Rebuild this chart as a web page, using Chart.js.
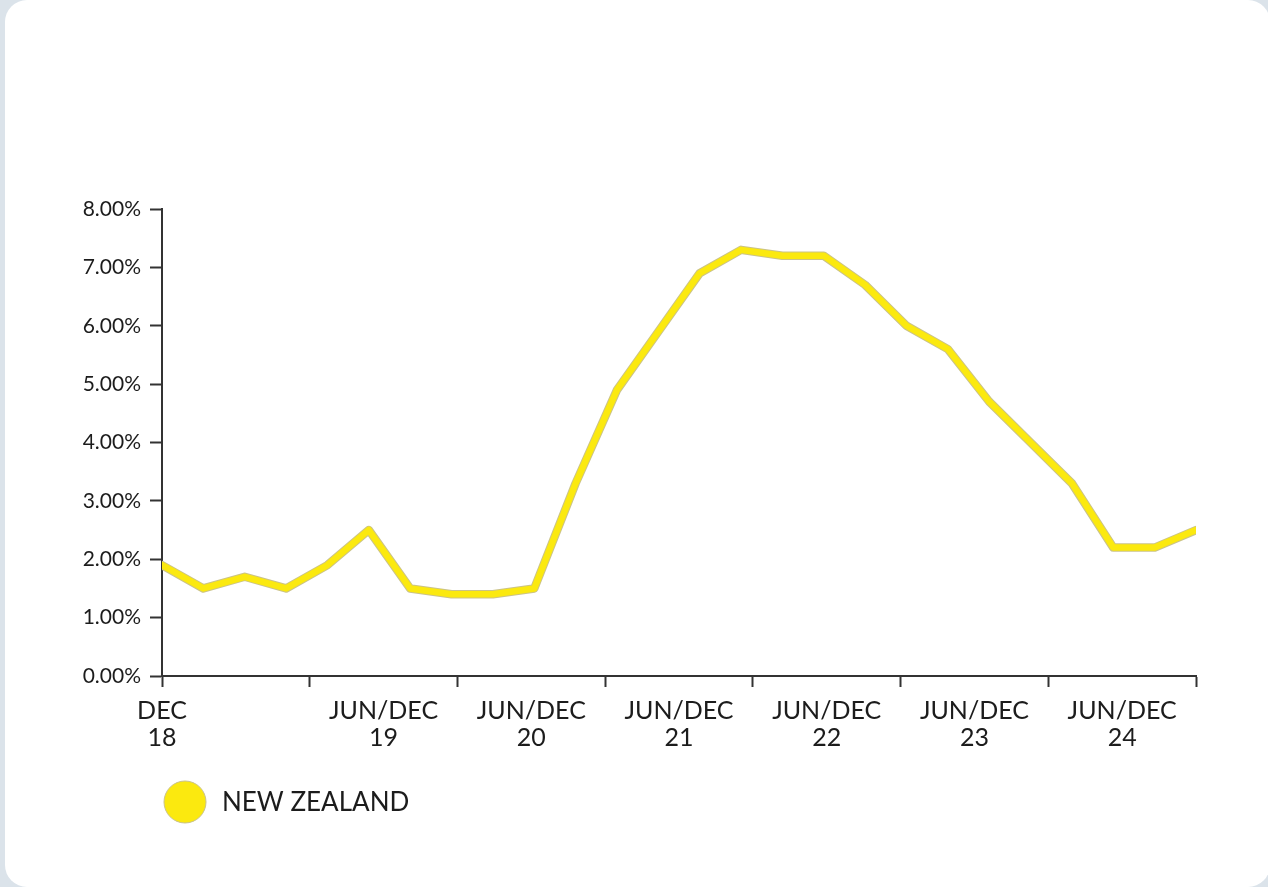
<!DOCTYPE html>
<html>
<head>
<meta charset="utf-8">
<title>New Zealand CPI</title>
<script src="https://cdn.jsdelivr.net/npm/chart.js@4.4.1/dist/chart.umd.min.js"></script>
<style>
  html, body { margin: 0; padding: 0; }
  body { width: 1268px; height: 887px; background: #dbe3ea; position: relative; overflow: hidden; }
  .card { position: absolute; left: 5px; top: 0; width: 1265px; height: 887px; background: #fff; border-radius: 22px; }
  #cpiChart { position: absolute; left: 0; top: 0; }
</style>
</head>
<body>
<div class="card"></div>
<canvas id="cpiChart" width="1268" height="887"></canvas>
<script>
// quarterly annual CPI, Dec 18 .. Mar 25
const quarters = ['Dec 18', 'Mar 19', 'Jun 19', 'Sep 19', 'Dec 19', 'Mar 20', 'Jun 20', 'Sep 20', 'Dec 20',
  'Mar 21', 'Jun 21', 'Sep 21', 'Dec 21', 'Mar 22', 'Jun 22', 'Sep 22', 'Dec 22', 'Mar 23', 'Jun 23',
  'Sep 23', 'Dec 23', 'Mar 24', 'Jun 24', 'Sep 24', 'Dec 24', 'Mar 25'];
const nzRates = [1.9, 1.5, 1.7, 1.5, 1.9, 2.5, 1.5, 1.4, 1.4, 1.5, 3.3, 4.9, 5.9, 6.9, 7.3, 7.2, 7.2,
  6.7, 6.0, 5.6, 4.7, 4.0, 3.3, 2.2, 2.2, 2.5];

// x axis is split into 7 equal bands, labels sit in the middle of each band (first one on the edge)
const xTickLabels = [['DEC', '18'], ['JUN/DEC', '19'], ['JUN/DEC', '20'], ['JUN/DEC', '21'],
  ['JUN/DEC', '22'], ['JUN/DEC', '23'], ['JUN/DEC', '24']];
const yTicks = [0, 1, 2, 3, 4, 5, 6, 7, 8];

const seriesName = 'NEW ZEALAND';
const yellow = '#fbe90f';
const ink = '#1c1c1c';

const points = nzRates.map((v, i) => ({ x: i, y: v }));
const xMax = quarters.length - 1;
const band = xMax / 7;

const xTicks = [];
for (let i = 0; i <= 7; i++) xTicks.push({ value: i * band, mark: true, text: i === 0 ? xTickLabels[0] : '' });
for (let i = 1; i < xTickLabels.length; i++) xTicks.push({ value: (i + 0.5) * band, mark: false, text: xTickLabels[i] });
xTicks.sort((a, b) => a.value - b.value);

const legendDot = {
  id: 'legendDot',
  afterDraw(chart) {
    const c = chart.ctx;
    const ds = chart.data.datasets[0];
    const x = chart.chartArea.left + 23;
    const y = 802;
    c.save();
    c.beginPath();
    c.arc(x, y, 21, 0, Math.PI * 2);
    c.fillStyle = ds.borderColor;
    c.fill();
    c.lineWidth = 1;
    c.strokeStyle = '#c9c28a';
    c.stroke();
    c.fillStyle = ink;
    c.font = '26px Lato';
    c.textBaseline = 'middle';
    c.fillText(ds.label, x + 37, y + 1);
    c.restore();
  }
};

new Chart(document.getElementById('cpiChart'), {
  type: 'line',
  data: {
    datasets: [{
      label: seriesName,
      data: points,
      borderColor: yellow,
      borderWidth: 6.5,
      borderCapStyle: 'round',
      borderJoinStyle: 'round',
      pointRadius: 0,
      tension: 0
    }, {
      // thin darker edge under the yellow line
      label: 'edge',
      data: points,
      borderColor: '#cbc387',
      borderWidth: 8.5,
      borderCapStyle: 'round',
      borderJoinStyle: 'round',
      pointRadius: 0,
      tension: 0
    }]
  },
  options: {
    responsive: false,
    animation: false,
    layout: { padding: { left: 0, top: 209, right: 72, bottom: 130 } },
    plugins: { legend: { display: false }, tooltip: { enabled: false } },
    scales: {
      x: {
        type: 'linear',
        min: 0,
        max: xMax,
        afterBuildTicks: (scale) => { scale.ticks = xTicks.map(t => Object.assign({}, t)); },
        afterFit: (scale) => { scale.height = 81; },
        grid: {
          drawOnChartArea: false,
          tickLength: 11,
          tickWidth: 2,
          tickColor: (ctx) => (ctx.tick && ctx.tick.mark ? '#333' : 'rgba(0,0,0,0)')
        },
        border: { color: '#333', width: 2 },
        ticks: {
          autoSkip: false,
          maxRotation: 0,
          padding: 10,
          color: ink,
          font: { family: 'Lato', size: 25, lineHeight: 1.08 },
          callback: (value, index, ticks) => ticks[index].text
        }
      },
      y: {
        min: 0,
        max: 8,
        afterBuildTicks: (scale) => { scale.ticks = yTicks.map(v => ({ value: v })); },
        afterFit: (scale) => { scale.width = 162; },
        grid: { drawOnChartArea: false, tickLength: 12, tickWidth: 2, tickColor: '#333' },
        border: { color: '#333', width: 2 },
        ticks: {
          padding: 9,
          color: ink,
          font: { family: 'Lato', size: 21 },
          callback: (v) => v.toFixed(2) + '%'
        }
      }
    }
  },
  plugins: [legendDot]
});
</script>
</body>
</html>
